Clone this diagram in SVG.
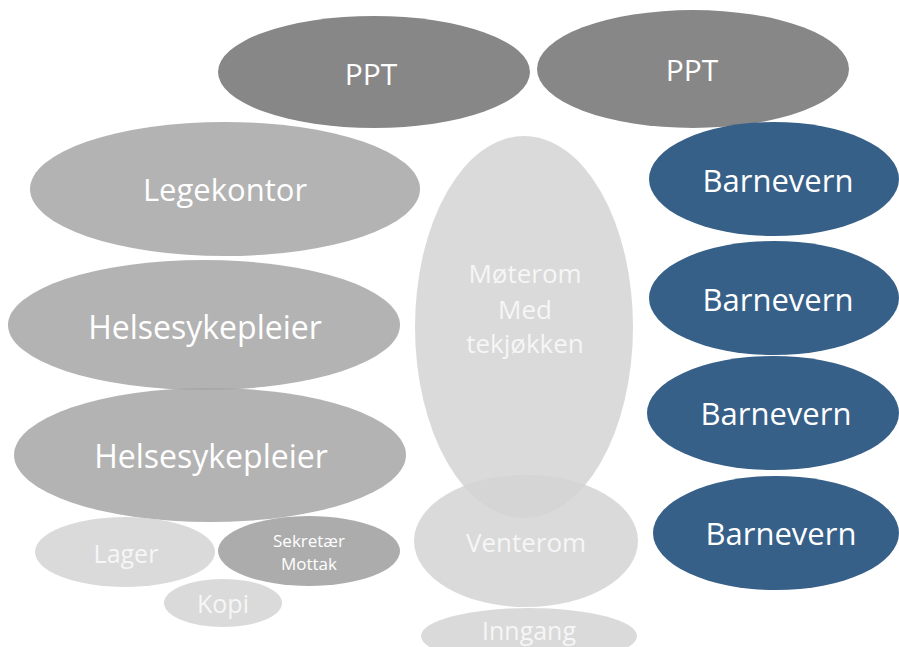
<svg xmlns="http://www.w3.org/2000/svg" width="899" height="647" viewBox="0 0 899 647">
<style>
  text { font-family: "Open Sans", "Noto Sans", "DejaVu Sans", sans-serif; text-anchor: middle; }
  .ppt { fill: #878787; }
  .mid { fill: #a6a6a6; fill-opacity: 0.85; }
  .sek { fill: #9e9e9e; fill-opacity: 0.85; }
  .light { fill: #d4d4d4; fill-opacity: 0.85; }
  .blue { fill: #376089; }
  .tw { fill: #ffffff; }
  .tl { fill: #f6f6f6; }
</style>
<rect width="899" height="647" fill="#ffffff"/>
<g id="connectors"></g>
<g id="ppt1"><ellipse class="ppt" cx="374" cy="72" rx="156" ry="56"/><text class="tw" x="371" y="85" font-size="30">PPT</text></g>
<g id="ppt2"><ellipse class="ppt" cx="693" cy="69" rx="156" ry="59"/><text class="tw" x="692" y="81" font-size="30">PPT</text></g>
<g id="legekontor"><ellipse class="mid" cx="225" cy="189" rx="195" ry="67"/><text class="tw" x="225" y="201" font-size="31">Legekontor</text></g>
<g id="moterom"><ellipse class="light" cx="524" cy="327" rx="109" ry="191"/>
  <text class="tl" x="525" y="283" font-size="26">Møterom</text>
  <text class="tl" x="525" y="319" font-size="26">Med</text>
  <text class="tl" x="525" y="353" font-size="26">tekjøkken</text></g>
<g id="helsesykepleier1"><ellipse class="mid" cx="204" cy="325" rx="196" ry="65"/><text class="tw" x="205" y="339" font-size="32">Helsesykepleier</text></g>
<g id="helsesykepleier2"><ellipse class="mid" cx="210" cy="455" rx="196" ry="67"/><text class="tw" x="211" y="468" font-size="32">Helsesykepleier</text></g>
<g id="venterom"><ellipse class="light" cx="526" cy="541" rx="112" ry="66"/><text class="tl" x="526" y="552" font-size="26">Venterom</text></g>
<g id="inngang"><ellipse class="light" cx="529" cy="636" rx="108" ry="28"/><text class="tl" x="529" y="640" font-size="25">Inngang</text></g>
<g id="lager"><ellipse class="light" cx="125" cy="552" rx="90" ry="35"/><text class="tl" x="126" y="563" font-size="25">Lager</text></g>
<g id="sekretaer"><ellipse class="sek" cx="309" cy="551" rx="91" ry="35"/>
  <text class="tw" x="309" y="547" font-size="17">Sekretær</text>
  <text class="tw" x="309" y="570" font-size="17">Mottak</text></g>
<g id="kopi"><ellipse class="light" cx="223" cy="603" rx="59" ry="24"/><text class="tl" x="223" y="613" font-size="25">Kopi</text></g>
<g id="barnevern1"><ellipse class="blue" cx="774" cy="179" rx="125" ry="57"/><text class="tw" x="778" y="192" font-size="31">Barnevern</text></g>
<g id="barnevern2"><ellipse class="blue" cx="774" cy="298" rx="125" ry="57"/><text class="tw" x="778" y="311" font-size="31">Barnevern</text></g>
<g id="barnevern3"><ellipse class="blue" cx="773" cy="413" rx="126" ry="57"/><text class="tw" x="776" y="425" font-size="31">Barnevern</text></g>
<g id="barnevern4"><ellipse class="blue" cx="776" cy="533" rx="123" ry="57"/><text class="tw" x="781" y="545" font-size="31">Barnevern</text></g>
</svg>
